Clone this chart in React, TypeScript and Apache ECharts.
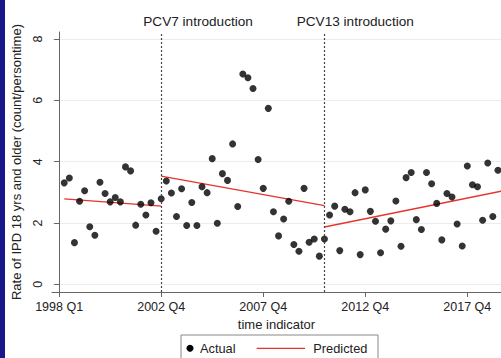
import React, { useEffect, useRef } from "react";
import * as echarts from "echarts";

// Observed quarterly rate (quarter index 1..86)
const actualValues = [
  3.31, 3.47, 1.36, 2.71, 3.05, 1.88, 1.6, 3.33, 2.96, 2.69,
  2.83, 2.69, 3.83, 3.7, 1.93, 2.61, 2.26, 2.66, 1.73, 2.79,
  3.37, 2.98, 2.21, 3.12, 1.92, 2.67, 1.92, 3.18, 2.99, 4.1,
  1.99, 3.61, 3.39, 4.58, 2.54, 6.86, 6.74, 6.39, 4.07, 3.13,
  5.74, 2.37, 1.58, 2.13, 2.71, 1.3, 1.08, 3.13, 1.37, 1.48,
  0.92, 1.48, 2.26, 2.55, 1.1, 2.45, 2.37, 2.99, 0.97, 3.08,
  2.38, 2.06, 1.03, 1.8, 2.07, 2.72, 1.24, 3.48, 3.65, 2.11,
  1.79, 3.65, 3.28, 2.64, 1.45, 2.96, 2.85, 1.97, 1.25, 3.86,
  3.25, 3.18, 2.09, 3.96, 2.21, 3.72,
];
const actualQuarter = actualValues.map((_, i) => i + 1);

// Predicted segmented regression lines [quarter, value]
const predictedSeg1 = [[1, 2.79], [20, 2.55]];
const predictedSeg2 = [[20, 3.53], [52, 2.57]];
const predictedSeg3 = [[52, 1.87], [87, 3.05]];

const xTickValues = [0, 20, 40, 60, 80];
const xTickLabels = ["1998 Q1", "2002 Q4", "2007 Q4", "2012 Q4", "2017 Q4"];
const yTickValues = [0, 2, 4, 6, 8];
const interventionQuarters = [20, 52];
const interventionLabels = ["PCV7 introduction", "PCV13 introduction"];

const FONT = "'Liberation Sans', Arial, Helvetica, sans-serif";

export default function App() {
  const ref = useRef<HTMLDivElement>(null);
  useEffect(() => {
    if (!ref.current) return;
    const chart = echarts.init(ref.current, null, { renderer: "svg" });
    const lineSeries = [predictedSeg1, predictedSeg2, predictedSeg3].map((seg) => ({
      type: "line",
      name: "Predicted",
      data: seg,
      showSymbol: false,
      symbol: "none",
      lineStyle: { color: "#e8322c", width: 1.3 },
      z: 3,
    }));
    chart.setOption({
      animation: false,
      backgroundColor: "#ffffff",
      textStyle: { fontFamily: FONT },
      grid: { left: 52, right: 0, top: 32, bottom: 66 },
      xAxis: {
        type: "value",
        min: -1.4,
        max: 86.6,
        name: "time indicator",
        nameLocation: "middle",
        nameGap: 23,
        nameTextStyle: { fontSize: 13, color: "#222", fontFamily: FONT },
        axisLine: { show: true, onZero: false, lineStyle: { color: "#666", width: 1 } },
        axisTick: { show: true, length: 5, customValues: xTickValues, lineStyle: { color: "#666" } },
        axisLabel: {
          customValues: xTickValues,
          margin: 8,
          fontSize: 12.5,
          color: "#222",
          fontFamily: FONT,
          formatter: (v: number) => xTickLabels[xTickValues.indexOf(v)] ?? "",
        },
        splitLine: { show: false },
      },
      yAxis: {
        type: "value",
        min: -0.25,
        max: 8.23,
        name: "Rate of IPD 18 yrs and older (count/persontime)",
        nameLocation: "middle",
        nameGap: 20,
        nameTextStyle: { fontSize: 13, color: "#222", fontFamily: FONT },
        axisLine: { show: true, lineStyle: { color: "#666", width: 1 } },
        axisTick: { show: true, length: 5, customValues: yTickValues, lineStyle: { color: "#666" } },
        axisLabel: {
          customValues: yTickValues,
          rotate: 90,
          margin: 8,
          fontSize: 12.5,
          color: "#222",
          fontFamily: FONT,
        },
        splitLine: { show: true, lineStyle: { color: "#ececec", width: 1 } },
      },
      series: [
        {
          type: "scatter",
          name: "Actual",
          data: actualQuarter.map((q, i) => [q, actualValues[i]]),
          symbolSize: 7,
          itemStyle: { color: "#000" },
          z: 4,
          markLine: {
            silent: true,
            symbol: ["none", "none"],
            label: { show: false },
            lineStyle: { type: [2, 2], color: "#444", width: 1.2 },
            data: interventionQuarters.map((q) => ({ xAxis: q })),
          },
        },
        ...lineSeries,
      ],
      graphic: [
        { type: "rect", left: 0, top: 0, shape: { width: 5, height: 358 }, style: { fill: "#17178a" }, z: 10 },
        {
          type: "text",
          x: 143.3,
          y: 21.7,
          style: { text: interventionLabels[0], font: `13.6px ${FONT}`, fill: "#222", textVerticalAlign: "middle", textAlign: "left" },
        },
        {
          type: "text",
          x: 296.7,
          y: 21.7,
          style: { text: interventionLabels[1], font: `13.6px ${FONT}`, fill: "#222", textVerticalAlign: "middle", textAlign: "left" },
        },
        {
          type: "rect",
          shape: { x: 181, y: 335, width: 197, height: 30 },
          style: { fill: "#fff", stroke: "#888", lineWidth: 1 },
        },
        { type: "circle", shape: { cx: 190, cy: 348.3, r: 3.5 }, style: { fill: "#000" } },
        {
          type: "text",
          x: 200,
          y: 348.5,
          style: { text: "Actual", font: `12.8px ${FONT}`, fill: "#222", textVerticalAlign: "middle" },
        },
        { type: "line", shape: { x1: 256.7, y1: 348.3, x2: 305, y2: 348.3 }, style: { stroke: "#e8322c", lineWidth: 1.3 } },
        {
          type: "text",
          x: 313.3,
          y: 348.5,
          style: { text: "Predicted", font: `12.8px ${FONT}`, fill: "#222", textVerticalAlign: "middle" },
        },
      ],
    });
    return () => chart.dispose();
  }, []);
  return (
    <div
      ref={ref}
      style={{ position: "fixed", left: 0, top: 0, width: 501, height: 358, background: "#fff" }}
    />
  );
}
